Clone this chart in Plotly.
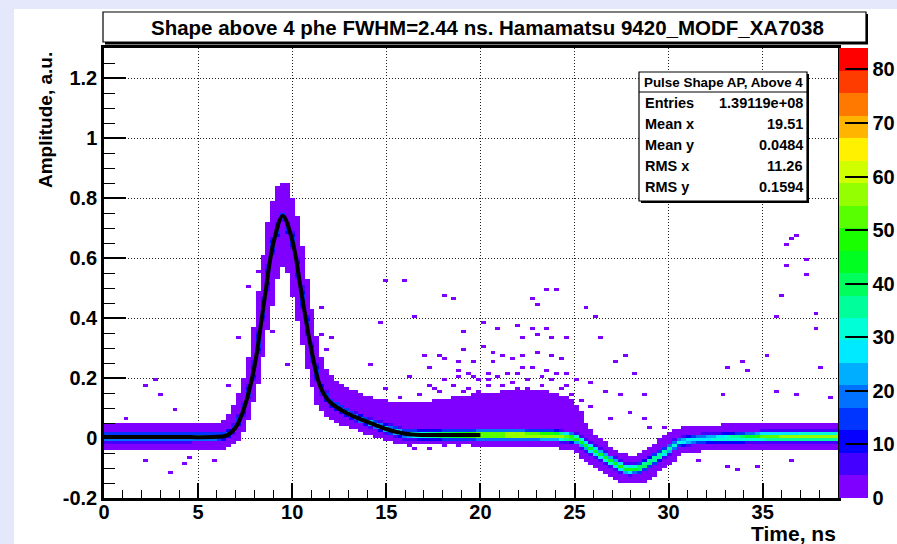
import colorsys
import numpy as np
import plotly.graph_objects as go

# ---------------- data ----------------
# ridge (most probable amplitude) of the 2D histogram vs time, ns
knot_t = [0, 2, 4, 6, 6.5, 7, 7.5, 8, 8.5, 9, 9.5, 10, 10.5, 11, 11.5, 12, 13, 14, 15, 16,
          17, 18, 19, 20, 22, 24, 25, 25.5, 26, 27, 27.8, 28.5, 29.5, 30.5, 31.5, 33, 35, 37, 39]
ridge_amp = [0.003, 0.003, 0.003, 0.004, 0.008, 0.035, 0.11, 0.24, 0.45, 0.65, 0.74, 0.66, 0.48, 0.30,
             0.17, 0.12, 0.08, 0.054, 0.03, 0.014, 0.01, 0.01, 0.01, 0.01, 0.01, 0.008, 0.0, -0.02,
             -0.04, -0.08, -0.107, -0.10, -0.06, -0.015, -0.004, 0.0, 0.004, 0.004, 0.004]
# counts on the ridge
ridge_counts = [28, 28, 28, 26, 22, 18, 15, 15, 15, 15, 18, 15, 15, 15, 15, 18, 22, 25, 28, 32,
                38, 45, 52, 60, 64, 60, 48, 44, 44, 46, 47, 46, 40, 30, 28, 34, 52, 58, 58]
# extent of the filled (low-count) band above / below the ridge
band_up = [0.045, 0.045, 0.045, 0.045, 0.05, 0.05, 0.05, 0.06, 0.08, 0.10, 0.11, 0.10, 0.08, 0.06,
           0.05, 0.07, 0.08, 0.08, 0.09, 0.10, 0.11, 0.12, 0.13, 0.14, 0.15, 0.145, 0.12, 0.07,
           0.05, 0.04, 0.04, 0.04, 0.045, 0.045, 0.045, 0.045, 0.045, 0.045, 0.045]
band_dn = [0.04, 0.04, 0.04, 0.04, 0.04, 0.04, 0.04, 0.04, 0.06, 0.10, 0.12, 0.10, 0.07, 0.05,
           0.05, 0.05, 0.04, 0.035, 0.035, 0.033, 0.03, 0.03, 0.03, 0.04, 0.04, 0.04, 0.04, 0.045,
           0.045, 0.045, 0.045, 0.045, 0.045, 0.04, 0.04, 0.04, 0.04, 0.04, 0.04]

# isolated entries (time, amplitude)
out_t = [36.8, 36.6, 36.3, 37.3, 36.3, 37.3, 35.9, 37.7, 35.7, 37.9, 25.5, 26.1, 23.5, 24.1, 22.7, 23.1,
         18.7, 26.5, 27.6, 27.1, 28.1, 33.9, 33.2, 34.3, 35.3, 38.2, 15.0, 16.06, 18.0, 16.6, 14.7, 11.66,
         12.0, 8.09, 7.7, 7.06, 9.04, 9.68, 14.06, 17.07, 17.9, 2.62, 2.09, 3.07, 6.7, 1.12, 3.7, 2.27,
         3.6, 4.3, 5.8, 4.66, 32.85, 35.7, 36.8, 38.6, 33.1, 33.7, 34.7, 36.6, 31.7, 26.7, 27.4, 28.7,
         28.07, 26.8, 28.8, 29.0, 29.8, 25.3, 25.85, 25.5, 28.1, 14.05, 17.2, 18.2, 18.8, 16.3, 17.2,
         17.9, 18.9, 14.85, 15.7, 16.8, 16.6, 17.2, 18.0, 18.8, 16.3, 19.1, 20.2, 20.9, 22.0, 22.7,
         23.5, 22.2, 23.0, 23.9, 24.5, 19.1, 20.2, 20.7, 21.2, 21.7, 22.3, 23.1, 23.7, 24.4, 19.7,
         20.7, 22.2, 22.8, 23.5, 18.8, 19.5, 20.4, 21.4, 24.1, 24.6, 25.05, 25.9, 26.6, 11.5, 11.9,
         19.3, 19.9, 20.5, 21.0, 21.6, 22.0, 22.6, 23.2, 23.8, 24.3, 18.6, 20.0, 21.3, 22.9, 24.0,
         18.1, 19.6, 21.9, 23.4, 24.8, 25.3, 20.8, 19.0, 21.1, 22.4, 23.6, 24.6, 20.3, 17.6]
out_a = [0.673, 0.66, 0.643, 0.59, 0.577, 0.55, 0.48, 0.418, 0.40, 0.36, 0.433, 0.41, 0.493, 0.493,
         0.463, 0.44, 0.463, 0.336, 0.277, 0.254, 0.217, 0.254, 0.24, 0.223, 0.27, 0.24, 0.529, 0.529,
         0.48, 0.402, 0.388, 0.432, 0.337, 0.551, 0.507, 0.336, 0.351, 0.247, 0.241, 0.277, 0.271,
         0.193, 0.171, 0.143, 0.18, 0.06, 0.093, -0.073, -0.112, -0.084, -0.073, -0.068, 0.149, 0.158,
         0.143, 0.136, -0.099, -0.101, -0.099, -0.073, -0.073, 0.16, 0.147, 0.147, 0.088, 0.06, 0.066,
         0.038, 0.038, 0.083, 0.11, 0.05, -0.14, 0.243, 0.238, 0.26, 0.25, 0.2, 0.177, 0.16, 0.2,
         0.167, 0.138, 0.15, -0.034, -0.034, -0.029, -0.029, -0.029, 0.354, 0.383, 0.36, 0.373, 0.363,
         0.367, 0.338, 0.343, 0.337, 0.337, 0.291, 0.304, 0.288, 0.271, 0.26, 0.271, 0.283, 0.271,
         0.26, 0.25, 0.25, 0.238, 0.238, 0.227, 0.227, 0.217, 0.217, 0.217, 0.217, 0.217, 0.193,
         0.188, 0.16, 0.343, 0.299,
         0.17, 0.19, 0.175, 0.2, 0.185, 0.165, 0.195, 0.18, 0.19, 0.165, 0.18, 0.16, 0.16, 0.155, 0.15,
         0.19, 0.205, 0.21, 0.205, 0.14, 0.12, 0.14, 0.155, 0.175, 0.17, 0.16, 0.175, 0.195, 0.165]

# profile (black line), 0..20 ns
profile_t = [0, 2, 4, 6, 6.5, 7, 7.5, 8, 8.5, 9, 9.5, 10, 10.5, 11, 11.5, 12, 13, 14, 15, 16, 17, 18, 19, 20]
profile_amp = [0.003, 0.003, 0.003, 0.004, 0.008, 0.035, 0.11, 0.24, 0.45, 0.65, 0.74, 0.66, 0.48, 0.30,
               0.17, 0.12, 0.08, 0.054, 0.03, 0.014, 0.01, 0.01, 0.01, 0.01]

x_tickvals = [0, 5, 10, 15, 20, 25, 30, 35]
y_tickvals = [-0.2, 0, 0.2, 0.4, 0.6, 0.8, 1.0, 1.2]
y_ticktext = ["-0.2", "0", "0.2", "0.4", "0.6", "0.8", "1", "1.2"]
z_tickvals = [0, 10, 20, 30, 40, 50, 60, 70, 80]

title_text = "Shape above 4 phe FWHM=2.44 ns. Hamamatsu 9420_MODF_XA7038"
stats_title = "Pulse Shape AP, Above 4"
stats_names = ["Entries", "Mean x", "Mean y", "RMS x", "RMS y"]
stats_values = ["1.39119e+08", "19.51", "0.0484", "11.26", "0.1594"]

# ---------------- build the 2D histogram table ----------------
T_MAX, A_MIN, A_MAX = 39.0, -0.2, 1.3
nx, ny = 150, 150
dx, dy = T_MAX / nx, (A_MAX - A_MIN) / ny
tc = (np.arange(nx) + 0.5) * dx
ac = A_MIN + (np.arange(ny) + 0.5) * dy

r = np.interp(tc, knot_t, ridge_amp)
p = np.interp(tc, knot_t, ridge_counts)
up = np.interp(tc, knot_t, band_up)
dn = np.interp(tc, knot_t, band_dn)
slope = np.gradient(r, tc)
win = np.linspace(-0.25, 0.25, 11)
rw = np.interp(tc[:, None] + win[None, :], knot_t, ridge_amp)
hi = rw.max(axis=1) + up
lo = rw.min(axis=1) - dn
s_eff = np.sqrt(0.0095 ** 2 + (slope * 0.06) ** 2)

Z = p[None, :] * np.exp(-0.5 * ((ac[:, None] - r[None, :]) / s_eff[None, :]) ** 2)
band = (ac[:, None] >= lo[None, :]) & (ac[:, None] <= hi[None, :])
Z = np.where(band, np.maximum(Z, 2.0), Z)
Z[Z < 1] = np.nan
for t_, a_ in zip(out_t, out_a):
    ix = int(t_ // dx)
    iy = int((a_ - A_MIN) // dy)
    if 0 <= ix < nx and 0 <= iy < ny and np.isnan(Z[iy, ix]):
        Z[iy, ix] = 2.0

# ROOT-like rainbow palette, 20 discrete levels
ZMAX = 84.0
nlev = 20
cols = []
for k in range(nlev):
    h = (270.0 * (1 - k / (nlev - 1))) / 360.0
    rr, gg, bb = colorsys.hsv_to_rgb(h, 1.0, 1.0)
    cols.append(f"rgb({int(rr*255)},{int(gg*255)},{int(bb*255)})")
cscale = []
for k, c in enumerate(cols):
    cscale.append([k / nlev, c])
    cscale.append([(k + 1) / nlev, c])

# ---------------- figure ----------------
W, H = 897, 544
L, R, TOP, BOT = 104, 838, 48, 498


def fx(px):
    return (px - L) / (R - L)


def fy(py):
    return (BOT - py) / (BOT - TOP)


FONT = "Liberation Sans, Arial, Helvetica, sans-serif"

fig = go.Figure()
fig.add_trace(go.Heatmap(
    x=tc, y=ac, z=Z, zmin=0, zmax=ZMAX, colorscale=cscale, zsmooth=False,
    hoverinfo="skip",
    colorbar=dict(
        x=fx(839), xanchor="left", xpad=0, y=0, yanchor="bottom", ypad=0,
        len=1, lenmode="fraction", thickness=29, thicknessmode="pixels",
        tickvals=z_tickvals, ticks="inside", ticklen=23, tickwidth=1.5, tickcolor="black",
        tickfont=dict(family=FONT, size=20, color="black", weight="bold"),
        outlinewidth=0,
    ),
))
fig.add_trace(go.Scatter(
    x=profile_t, y=profile_amp, mode="lines",
    line=dict(color="black", width=4, shape="spline"),
    hoverinfo="skip", showlegend=False,
))

axis_common = dict(
    showgrid=True, gridcolor="#222", gridwidth=1, griddash="1px,2px",
    showline=True, linecolor="black", linewidth=2.5, mirror=True,
    zeroline=False, ticks="inside", tickcolor="black", tickwidth=1.5,
    tickfont=dict(family=FONT, size=20, color="black", weight="bold"),
    layer="above traces",
)
fig.update_xaxes(range=[0, T_MAX], tickmode="array", tickvals=x_tickvals, ticklen=15,
                 ticklabelstandoff=-6,
                 minor=dict(dtick=1, tick0=0, ticks="inside", ticklen=8, tickcolor="black",
                            tickwidth=1.2, showgrid=False),
                 **axis_common)
fig.update_yaxes(range=[A_MIN, A_MAX], tickmode="array", tickvals=y_tickvals, ticktext=y_ticktext,
                 ticklen=22, minor=dict(dtick=0.05, tick0=0, ticks="inside", ticklen=11,
                                        tickcolor="black", tickwidth=1.2, showgrid=False),
                 **axis_common)

shapes = [
    dict(type="rect", xref="paper", yref="paper", x0=fx(14), x1=fx(897), y0=fy(544), y1=fy(9),
         fillcolor="white", line=dict(width=0), layer="below"),
    # title box with shadow
    dict(type="rect", xref="paper", yref="paper", x0=fx(105), x1=fx(868), y0=fy(44.5), y1=fy(14),
         fillcolor="black", line=dict(width=0), layer="above"),
    dict(type="rect", xref="paper", yref="paper", x0=fx(103), x1=fx(866), y0=fy(42), y1=fy(12),
         fillcolor="white", line=dict(color="black", width=1.2), layer="above"),
    # stats box with shadow
    dict(type="rect", xref="paper", yref="paper", x0=fx(641), x1=fx(809), y0=fy(203), y1=fy(74),
         fillcolor="black", line=dict(width=0), layer="above"),
    dict(type="rect", xref="paper", yref="paper", x0=fx(639), x1=fx(807), y0=fy(201), y1=fy(72),
         fillcolor="white", line=dict(color="black", width=1.2), layer="above"),
    dict(type="line", xref="paper", yref="paper", x0=fx(639), x1=fx(807), y0=fy(92), y1=fy(92),
         line=dict(color="black", width=1.2), layer="above"),
]

ann = [
    dict(text=title_text, x=fx(487), y=fy(27.5), xanchor="center", yanchor="middle",
         font=dict(family=FONT, size=20.5, color="black", weight="bold")),
    dict(text="Amplitude, a.u.", x=fx(45), y=fy(50), xanchor="center", yanchor="top", textangle=-90,
         font=dict(family=FONT, size=19, color="black", weight="bold")),
    dict(text="Time, ns", x=fx(838), y=fy(533), xanchor="right", yanchor="middle",
         font=dict(family=FONT, size=21, color="black", weight="bold")),
    dict(text=stats_title, x=fx(723.5), y=fy(82), xanchor="center", yanchor="middle",
         font=dict(family=FONT, size=13.4, color="black", weight="bold")),
]
row_y = [103, 124, 145, 165.5, 186.5]
for name, val, yy in zip(stats_names, stats_values, row_y):
    ann.append(dict(text=name, x=fx(643), y=fy(yy), xanchor="left", yanchor="middle",
                    font=dict(family=FONT, size=14.5, color="black", weight="bold")))
    ann.append(dict(text=val, x=fx(805), y=fy(yy), xanchor="right", yanchor="middle",
                    font=dict(family=FONT, size=14.5, color="black", weight="bold")))
for a in ann:
    a.update(xref="paper", yref="paper", showarrow=False)

fig.update_layout(
    width=W, height=H,
    margin=dict(l=L, r=W - R, t=TOP, b=H - BOT, pad=0, autoexpand=False),
    paper_bgcolor="#e5e7fa", plot_bgcolor="white",
    showlegend=False, shapes=shapes, annotations=ann,
)
fig.write_html("out.html")
